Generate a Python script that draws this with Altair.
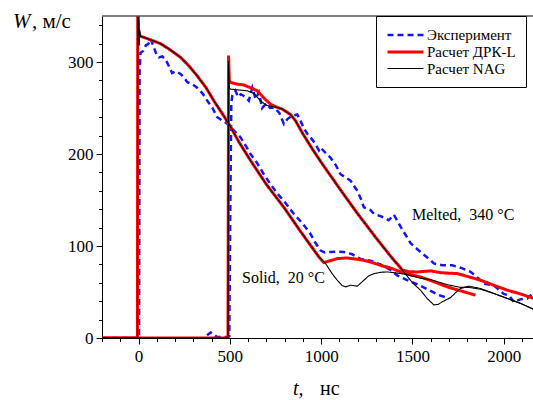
import altair as alt
import pandas as pd

SERIES = ["Эксперимент", "Расчет ДРК-L", "Расчет NAG"]

# ---- Solid, 20 C : experiment
solid_exp_t = [-200, 3, 6, 11, 25, 40, 55, 66, 80, 95, 111, 130, 148, 165, 184, 205, 230, 250, 267, 295,
               321, 350, 376, 405, 431, 460, 486, 520, 559, 590, 613, 650, 686, 720, 760, 800, 850, 900,
               942, 970, 997, 1020, 1051, 1090, 1124, 1170, 1216, 1270, 1325, 1380, 1416, 1471, 1530,
               1581, 1645, 1700]
solid_exp_w = [0, 0, 290, 310, 312, 318, 320, 325, 318, 310, 305, 306, 303, 296, 288, 290, 287, 283, 278, 276,
               272, 266, 258, 250, 240, 236, 233, 226, 218, 208, 200, 190, 178, 168, 157, 148, 135, 124,
               113, 103, 95, 93, 93.5, 94, 93.5, 91, 86, 84, 80, 74, 68, 63, 58,
               53, 46.6, 43]

# ---- Melted, 340 C : experiment
melt_exp_t = [375, 395, 410, 430, 480, 497, 503, 508, 513, 531, 545, 560, 577, 595, 604, 623, 641, 659, 677,
              700, 720, 741, 770, 796, 815, 842, 869, 887, 905, 924, 942, 965, 988, 997, 1020, 1051, 1080,
              1106, 1130, 1161, 1198, 1216, 1234, 1270, 1289, 1343, 1370, 1398, 1435, 1490, 1544, 1599,
              1617, 1663, 1718, 1770, 1818, 1860, 1891, 1946, 2000, 2030, 2055, 2090, 2128, 2156]
melt_exp_w = [3, 6, 4, 1, 1, 2, 150, 255, 263, 268.7, 262, 265, 263, 260, 258, 272, 260, 267, 250,
              255, 250, 250.6, 245, 232.6, 238, 241.6, 243, 236, 228, 222, 218, 212, 204, 207, 202, 196, 188,
              178, 175, 171, 160, 152, 142, 139, 135, 131, 128, 134, 121, 103, 93.5, 84.5,
              81, 79, 79, 76, 72, 65, 59, 57, 48, 46, 39, 42, 43, 48]

# ---- Solid, 20 C : ДРК-L
solid_drk_t = [-200, -6, -4, 0, 5, 11, 40, 80, 120, 175, 230, 275, 321, 370, 412, 455, 495, 550, 613, 700,
               796, 890, 988, 1015, 1050, 1088, 1143, 1200, 1234, 1280, 1325, 1380, 1435, 1490, 1544, 1620,
               1690, 1760, 1845]
solid_drk_w = [0, 0, 400, 335, 330, 328, 326, 323, 320, 313, 305, 296, 285, 272, 258, 245, 232.6, 213, 193, 167,
               142, 115, 88, 82, 84, 86.3, 87, 85.5, 84.5, 82, 79, 76, 72, 69, 66.4, 61,
               55.6, 51.5, 46.6]

# ---- Solid, 20 C : NAG
solid_nag_t = [-200, -6, -4, 0, 2, 4, 6, 11, 40, 80, 120, 175, 230, 275, 321, 370, 412, 455, 495, 550, 613,
               700, 796, 890, 988, 1024, 1060, 1088, 1115, 1134, 1161, 1198, 1234, 1260, 1289, 1330, 1362,
               1400, 1453, 1544, 1599, 1690, 1763, 1809, 1873, 1946, 2019, 2092, 2165]
solid_nag_w = [0, 0, 400, 330, 345, 318, 335, 328, 326, 323, 320, 313, 305, 296, 285, 272, 258, 245, 232.6, 213, 193,
               167, 142, 115, 88, 81, 70, 62.8, 57, 55.6, 57.4, 56.3, 62.8, 67.5, 70, 71.5, 71.8,
               71, 69.5, 65, 63.5, 58, 55, 55, 53, 48.4, 43, 37.6, 31]

# ---- Melted, 340 C : ДРК-L
melt_drk_t = [-200, 490, 493, 497, 504, 540, 577, 613, 650, 686, 723, 760, 787, 832, 860, 900, 950, 1000,
              1106, 1200, 1300, 1380, 1444, 1480, 1526, 1599, 1654, 1745, 1800, 1873, 1950, 2019, 2090, 2165]
melt_drk_w = [0, 0, 307, 280, 277.7, 276, 275, 272, 268.7, 261, 254, 250.6, 248.8, 243, 236, 222, 206, 191,
              161, 135, 109, 89, 74, 72, 71.8, 73, 71, 70, 67, 62.8, 57, 52, 48, 43]

# ---- Melted, 340 C : NAG
melt_nag_t = [-200, 490, 493, 497, 504, 559, 595, 632, 668, 700, 723, 760, 787, 832, 860, 900, 950, 1000,
              1106, 1200, 1300, 1380, 1444, 1500, 1544, 1580, 1617, 1640, 1663, 1709, 1740, 1763, 1809,
              1873, 1946, 2019, 2092, 2165]
melt_nag_w = [0, 0, 301, 272, 270.5, 269.4, 268.7, 265.8, 257.8, 253, 252, 250.6, 248.8, 243, 236, 222, 206, 191,
              161, 135, 109, 89, 74, 60, 52, 43, 36, 36.5, 39.3, 44, 50, 53.8, 56.3,
              53.8, 48.4, 43, 37.6, 31]

curves = [
    ("Эксперимент", "a_solid_exp", solid_exp_t, solid_exp_w),
    ("Эксперимент", "b_melt_exp", melt_exp_t, melt_exp_w),
    ("Расчет ДРК-L", "c_solid_drk", solid_drk_t, solid_drk_w),
    ("Расчет ДРК-L", "d_melt_drk", melt_drk_t, melt_drk_w),
    ("Расчет NAG", "e_solid_nag", solid_nag_t, solid_nag_w),
    ("Расчет NAG", "f_melt_nag", melt_nag_t, melt_nag_w),
]
rows = []
for s, c, ts, ws in curves:
    for i, (t, w) in enumerate(zip(ts, ws)):
        rows.append({"t": t, "W": w, "series": s, "curve": c, "i": i})
df = pd.DataFrame(rows)

WP, HP = 431, 322
FONT = "Liberation Serif"

legend = alt.Legend(
    title=None, orient="none", legendX=274, legendY=0,
    symbolType="M-1,0H3.8", symbolSize=225, labelFont=FONT, labelFontSize=15,
    labelColor="black", strokeColor="black", fillColor="white", padding=10,
    rowPadding=0, labelOffset=23,
)

x_enc = alt.X("t:Q", scale=alt.Scale(domain=[-200, 2160], nice=False, zero=False),
              axis=alt.Axis(values=list(range(-200, 2101, 100)), format="d",
                            labelExpr="datum.value % 500 === 0 ? datum.label : ''",
                            tickSize={"condition": {"test": "datum.value % 500 === 0", "value": 6}, "value": 3.5},
                            labelOverlap=False, labelFont=FONT, labelFontSize=17, labelColor="black",
                            labelPadding=4, tickColor="black", domainColor="black", grid=False, title=None))
y_enc = alt.Y("W:Q", scale=alt.Scale(domain=[0, 350], nice=False),
              axis=alt.Axis(values=list(range(0, 341, 20)), format="d",
                            labelExpr="datum.value % 100 === 0 ? datum.label : ''",
                            tickSize={"condition": {"test": "datum.value % 100 === 0", "value": 6}, "value": 3.5},
                            labelOverlap=False, labelFont=FONT, labelFontSize=17, labelColor="black",
                            labelPadding=3, tickColor="black", domainColor="black", grid=False, title=None))

lines = alt.Chart(df).mark_line(clip=True).encode(
    x=x_enc, y=y_enc,
    color=alt.Color("series:N", scale=alt.Scale(domain=SERIES, range=["#1414ff", "#ff0000", "#000000"]), legend=legend),
    strokeDash=alt.StrokeDash("series:N", scale=alt.Scale(domain=SERIES, range=[[6, 4], [1, 0], [1, 0]]), legend=legend),
    strokeWidth=alt.StrokeWidth("series:N", scale=alt.Scale(type="ordinal", domain=SERIES, range=[2.5, 3, 1.1]), legend=legend),
    detail="curve:N",
    order="i:Q",
)

one = alt.Data(values=[{}])
top_line = alt.Chart(one).mark_rule(color="#555555", strokeWidth=1.5).encode(
    x=alt.value(0), x2=alt.value(WP), y=alt.value(0))

def txt(s, x, y, size, style="normal", baseline="alphabetic"):
    return alt.Chart(one).mark_text(text=s, font=FONT, fontSize=size, fontStyle=style, align="left",
                                    baseline=baseline, color="black").encode(x=alt.value(x), y=alt.value(y))

NB = "\u00a0"
ann = [
    txt(f"Melted,{NB}{NB}340{NB}°C", 310, 199, 16, baseline="middle"),
    txt(f"Solid,{NB}{NB}20{NB}°C", 140, 262, 16, baseline="middle"),
    txt("W", -89, 12, 21, style="italic"),
    txt(", м/с", -70, 12, 21),
    txt("t,", 191, 379, 20, style="italic"),
    txt("нс", 218, 379, 20),
]

chart = alt.layer(lines, top_line, *ann).properties(
    width=WP, height=HP,
    autosize=alt.AutoSizeParams(type="none"),
    padding={"left": 102, "top": 16, "right": 0, "bottom": 62},
    background="white",
).configure(font=FONT).configure_view(stroke=None).configure_axis(
    labelFont=FONT, labelFontSize=17).configure_legend(labelFont=FONT, labelFontSize=15)

chart.save("out.html", embed_options={"renderer": "svg", "actions": False})
